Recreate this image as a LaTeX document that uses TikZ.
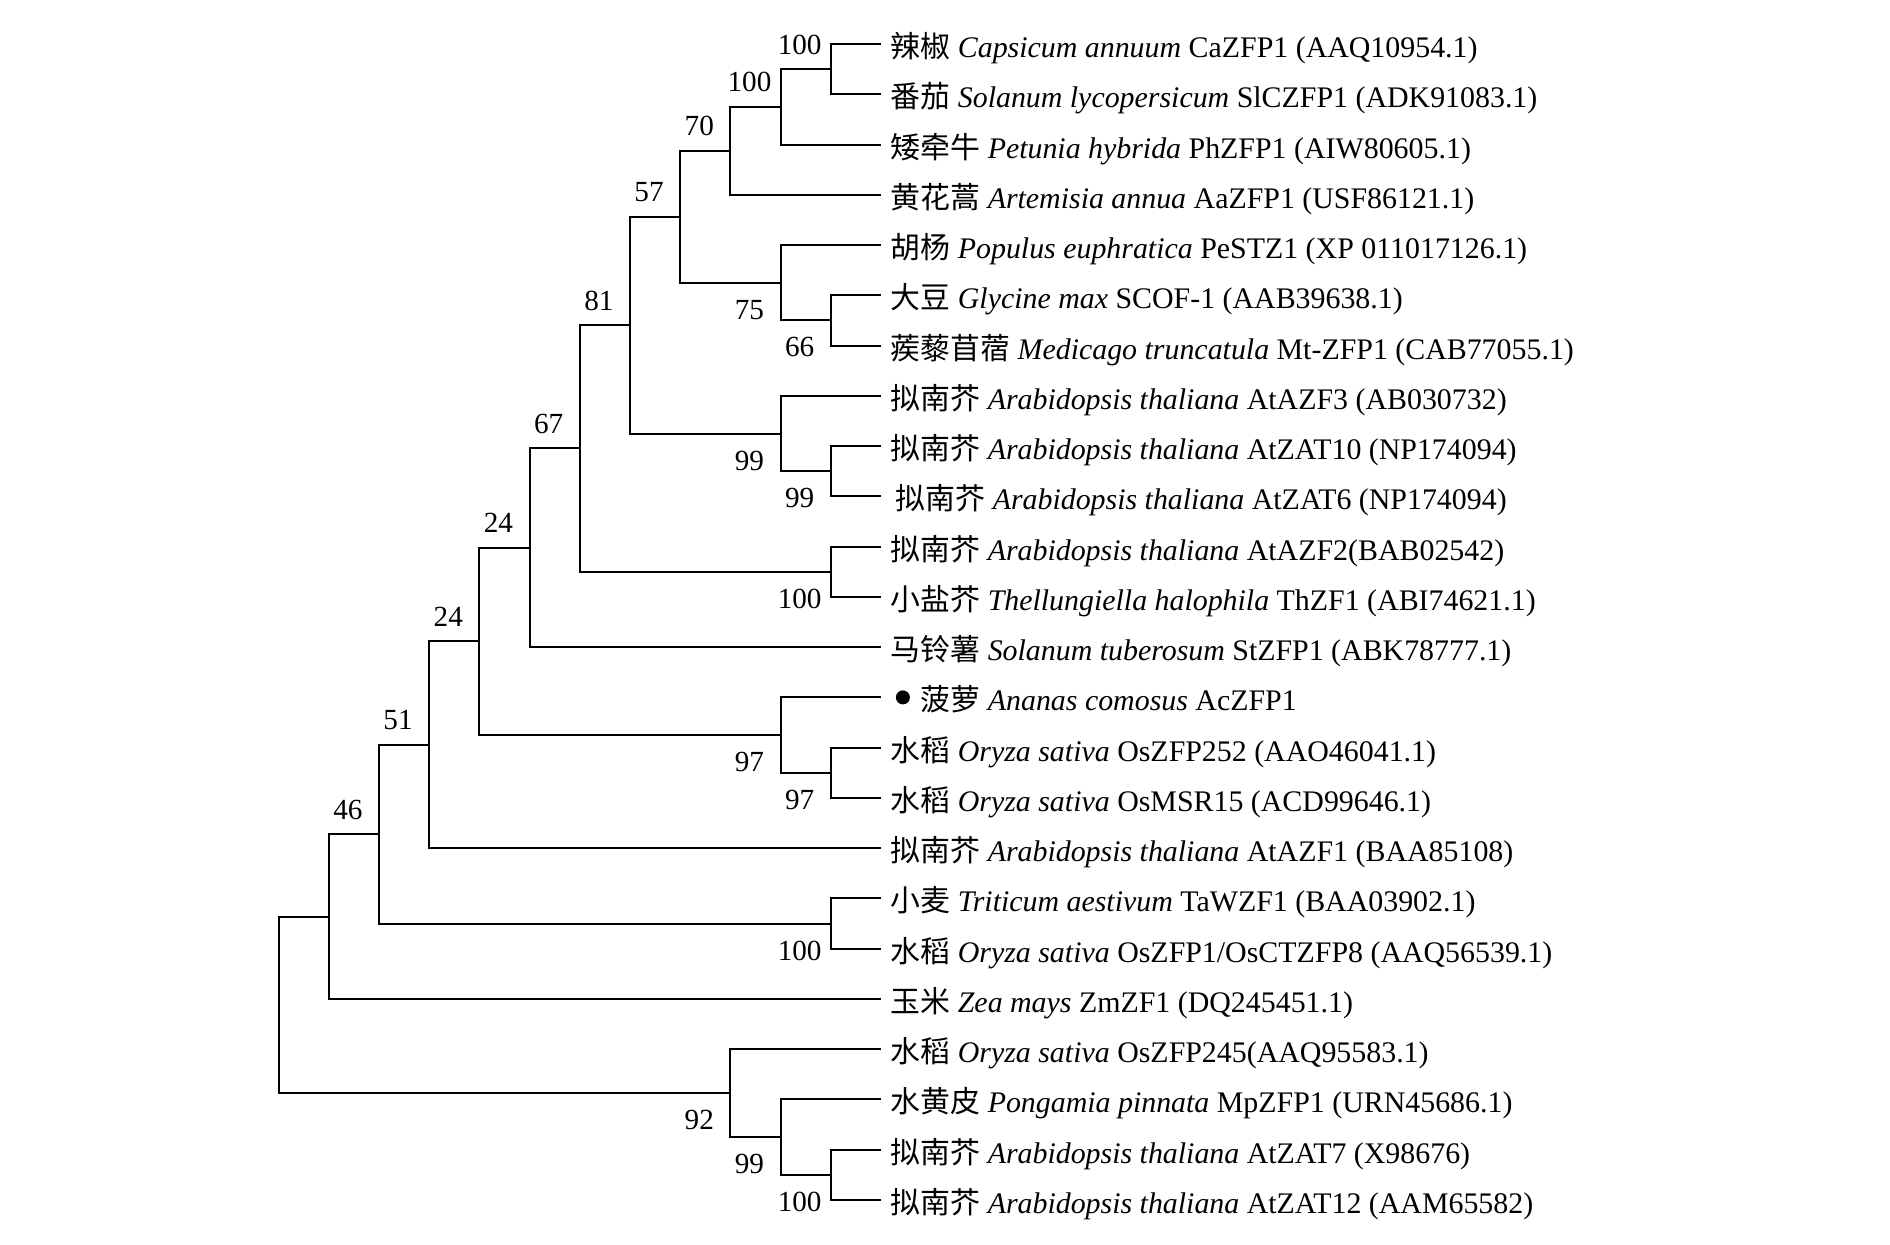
\documentclass[tikz,border=0pt]{standalone}
\usepackage{fontspec}
\setmainfont{Liberation Serif}
\newfontfamily\cjk{Noto Sans CJK SC}
\newcommand{\zh}[1]{{\cjk #1}}

\begin{document}
\begin{tikzpicture}[x=0.01cm,y=-0.01cm,
    branch/.style={line width=0.57pt},
    leaf/.style={anchor=base west,inner sep=0pt,xshift=0.09cm,yshift=-0.135cm,font=\fontsize{8.5}{10}\selectfont},
    boot/.style={anchor=base,inner sep=0pt,xshift=-0.31cm,font=\fontsize{8.3}{10}\selectfont},
    bsup/.style={boot,yshift=0.15cm},
    bsdown/.style={boot,yshift=-0.365cm}]
  \useasboundingbox (0,0) rectangle (1890,1245);

  % leaf tips
  \foreach \i [evaluate=\i as \y using {44+50.26*(\i-1)}] in {1,...,24}
    \coordinate (l\i) at (880.9,\y);

  % inner nodes
  \coordinate (n1) at (830.7,69.13);
  \coordinate (n2) at (780.5,106.83);
  \coordinate (n3) at (730.3,150.80);
  \coordinate (n4) at (680.1,216.77);
  \coordinate (n5) at (780.5,282.74);
  \coordinate (n6) at (830.7,320.43);
  \coordinate (n7) at (629.9,325.14);
  \coordinate (n8) at (780.5,433.52);
  \coordinate (n9) at (830.7,471.21);
  \coordinate (n10) at (579.7,448.44);
  \coordinate (n11) at (830.7,571.73);
  \coordinate (n12) at (529.5,547.78);
  \coordinate (n13) at (479.3,641.43);
  \coordinate (n14) at (780.5,735.08);
  \coordinate (n15) at (830.7,772.77);
  \coordinate (n16) at (429.1,744.79);
  \coordinate (n17) at (378.9,834.17);
  \coordinate (n18) at (830.7,923.55);
  \coordinate (n19) at (328.7,916.56);
  \coordinate (n20) at (730.3,1093.18);
  \coordinate (n21) at (780.5,1137.16);
  \coordinate (n22) at (830.7,1174.85);
  \coordinate (root) at (278.5,1004.87);

  % branches
  \foreach \a/\b in {root/n19,root/n20,n19/n17,n19/l20,n17/n16,n17/n18,
      n16/n13,n16/l17,n13/n12,n13/n14,n12/n10,n12/l13,n10/n7,n10/n11,
      n7/n4,n7/n8,n4/n3,n4/n5,n3/n2,n3/l4,n2/n1,n2/l3,n1/l1,n1/l2,
      n5/l5,n5/n6,n6/l6,n6/l7,n8/l8,n8/n9,n9/l9,n9/l10,n11/l11,n11/l12,
      n14/l14,n14/n15,n15/l15,n15/l16,n18/l18,n18/l19,
      n20/l21,n20/n21,n21/l22,n21/n22,n22/l23,n22/l24}
    \draw[branch] (\a) |- (\b);

  % bootstrap values
  \node[bsup] (b1) at (n1) {100};
  \node[bsup] (b2) at (n2) {100};
  \node[bsup] (b3) at (n3) {70};
  \node[bsup] (b4) at (n4) {57};
  \node[bsup] (b7) at (n7) {81};
  \node[bsup] (b10) at (n10) {67};
  \node[bsup] (b12) at (n12) {24};
  \node[bsup] (b13) at (n13) {24};
  \node[bsup] (b16) at (n16) {51};
  \node[bsup] (b17) at (n17) {46};
  \node[bsdown] (b5) at (n5) {75};
  \node[bsdown] (b6) at (n6) {66};
  \node[bsdown] (b8) at (n8) {99};
  \node[bsdown] (b9) at (n9) {99};
  \node[bsdown] (b11) at (n11) {100};
  \node[bsdown] (b14) at (n14) {97};
  \node[bsdown] (b15) at (n15) {97};
  \node[bsdown] (b18) at (n18) {100};
  \node[bsdown] (b20) at (n20) {92};
  \node[bsdown] (b21) at (n21) {99};
  \node[bsdown] (b22) at (n22) {100};

  % taxa
  \node[leaf] (t1) at (l1) {\zh{辣椒} \textit{Capsicum annuum} CaZFP1 (AAQ10954.1)};
  \node[leaf] (t2) at (l2) {\zh{番茄} \textit{Solanum lycopersicum} SlCZFP1 (ADK91083.1)};
  \node[leaf] (t3) at (l3) {\zh{矮牵牛} \textit{Petunia hybrida} PhZFP1 (AIW80605.1)};
  \node[leaf] (t4) at (l4) {\zh{黄花蒿} \textit{Artemisia annua} AaZFP1 (USF86121.1)};
  \node[leaf] (t5) at (l5) {\zh{胡杨} \textit{Populus euphratica} PeSTZ1 (XP 011017126.1)};
  \node[leaf] (t6) at (l6) {\zh{大豆} \textit{Glycine max} SCOF-1 (AAB39638.1)};
  \node[leaf] (t7) at (l7) {\zh{蒺藜苜蓿} \textit{Medicago truncatula} Mt-ZFP1 (CAB77055.1)};
  \node[leaf] (t8) at (l8) {\zh{拟南芥} \textit{Arabidopsis thaliana} AtAZF3 (AB030732)};
  \node[leaf] (t9) at (l9) {\zh{拟南芥} \textit{Arabidopsis thaliana} AtZAT10 (NP174094)};
  \node[leaf,xshift=0.05cm] (t10) at (l10) {\zh{拟南芥} \textit{Arabidopsis thaliana} AtZAT6 (NP174094)};
  \node[leaf] (t11) at (l11) {\zh{拟南芥} \textit{Arabidopsis thaliana} AtAZF2(BAB02542)};
  \node[leaf] (t12) at (l12) {\zh{小盐芥} \textit{Thellungiella halophila} ThZF1 (ABI74621.1)};
  \node[leaf] (t13) at (l13) {\zh{马铃薯} \textit{Solanum tuberosum} StZFP1 (ABK78777.1)};
  \fill ([xshift=0.22cm]l14) circle [radius=0.07cm];
  \node[leaf,xshift=0.3cm] (t14) at (l14) {\zh{菠萝} \textit{Ananas comosus} AcZFP1};
  \node[leaf] (t15) at (l15) {\zh{水稻} \textit{Oryza sativa} OsZFP252 (AAO46041.1)};
  \node[leaf] (t16) at (l16) {\zh{水稻} \textit{Oryza sativa} OsMSR15 (ACD99646.1)};
  \node[leaf] (t17) at (l17) {\zh{拟南芥} \textit{Arabidopsis thaliana} AtAZF1 (BAA85108)};
  \node[leaf] (t18) at (l18) {\zh{小麦} \textit{Triticum aestivum} TaWZF1 (BAA03902.1)};
  \node[leaf] (t19) at (l19) {\zh{水稻} \textit{Oryza sativa} OsZFP1/OsCTZFP8 (AAQ56539.1)};
  \node[leaf] (t20) at (l20) {\zh{玉米} \textit{Zea mays} ZmZF1 (DQ245451.1)};
  \node[leaf] (t21) at (l21) {\zh{水稻} \textit{Oryza sativa} OsZFP245(AAQ95583.1)};
  \node[leaf] (t22) at (l22) {\zh{水黄皮} \textit{Pongamia pinnata} MpZFP1 (URN45686.1)};
  \node[leaf] (t23) at (l23) {\zh{拟南芥} \textit{Arabidopsis thaliana} AtZAT7 (X98676)};
  \node[leaf] (t24) at (l24) {\zh{拟南芥} \textit{Arabidopsis thaliana} AtZAT12 (AAM65582)};
\end{tikzpicture}
\end{document}
